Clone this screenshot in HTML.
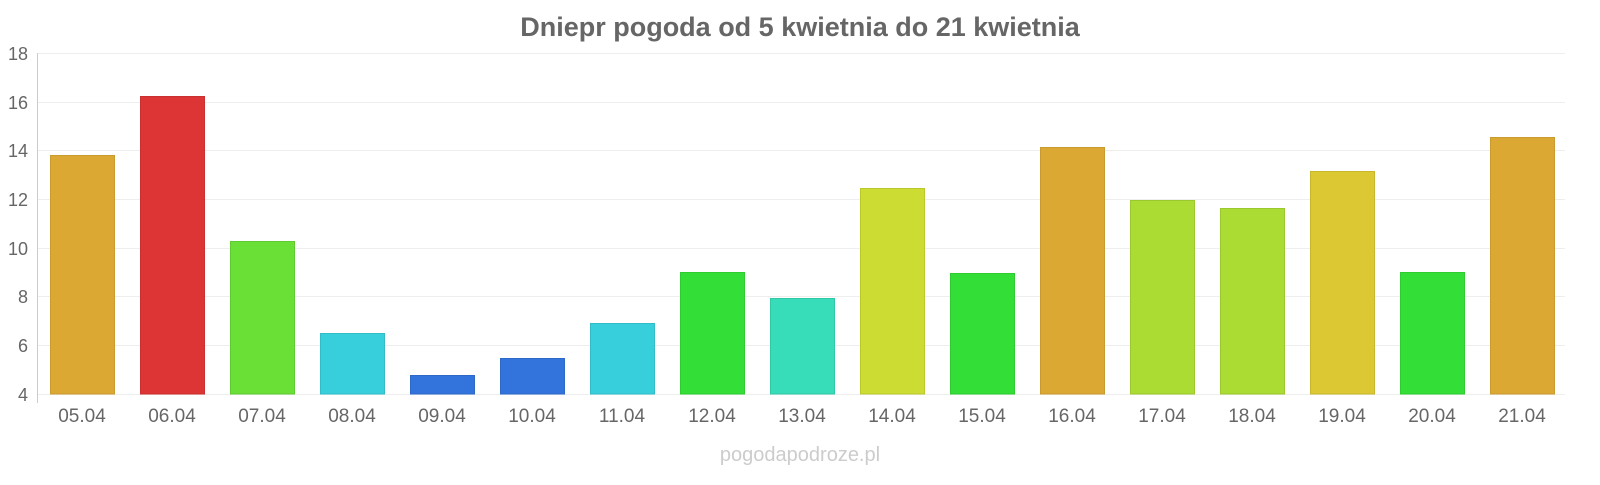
<!DOCTYPE html>
<html><head><meta charset="utf-8"><style>
body{margin:0;background:#fff;}
svg text{font-family:"Liberation Sans",sans-serif;}
</style></head><body>
<svg width="1600" height="480" xmlns="http://www.w3.org/2000/svg">
<text x="800" y="36" text-anchor="middle" font-size="27" font-weight="bold" fill="#666">Dniepr pogoda od 5 kwietnia do 21 kwietnia</text>
<g stroke="#eee" stroke-width="1">
<line x1="38" x2="1565" y1="53.5" y2="53.5"/>
<line x1="38" x2="1565" y1="102.5" y2="102.5"/>
<line x1="38" x2="1565" y1="150.5" y2="150.5"/>
<line x1="38" x2="1565" y1="199.5" y2="199.5"/>
<line x1="38" x2="1565" y1="248.5" y2="248.5"/>
<line x1="38" x2="1565" y1="296.5" y2="296.5"/>
<line x1="38" x2="1565" y1="345.5" y2="345.5"/>
<line x1="38" x2="1565" y1="394.5" y2="394.5"/>
</g>
<line x1="37.5" x2="37.5" y1="53" y2="403" stroke="#ccc"/>
<g font-size="18" fill="#666" text-anchor="end">
<text x="28" y="60">18</text><text x="28" y="109">16</text><text x="28" y="157">14</text>
<text x="28" y="206">12</text><text x="28" y="255">10</text><text x="28" y="303">8</text>
<text x="28" y="352">6</text><text x="28" y="401">4</text>
</g>
<g stroke-width="1">
<rect x="50.5" y="155.5" width="64" height="238.5" fill="#dca834" stroke="#c99a2e"/>
<rect x="140.5" y="96.5" width="64" height="297.5" fill="#dd3535" stroke="#c93030"/>
<rect x="230.5" y="241.5" width="64" height="152.5" fill="#6adf36" stroke="#5fcb31"/>
<rect x="320.5" y="333.5" width="64" height="60.5" fill="#37cfdc" stroke="#32bcc8"/>
<rect x="410.5" y="375.5" width="64" height="18.5" fill="#3374dc" stroke="#2e69c8"/>
<rect x="500.5" y="358.5" width="64" height="35.5" fill="#3374dc" stroke="#2e69c8"/>
<rect x="590.5" y="323.5" width="64" height="70.5" fill="#37cfdc" stroke="#32bcc8"/>
<rect x="680.5" y="272.5" width="64" height="121.5" fill="#33df36" stroke="#2ecb31"/>
<rect x="770.5" y="298.5" width="64" height="95.5" fill="#37dcb8" stroke="#32c8a7"/>
<rect x="860.5" y="188.5" width="64" height="205.5" fill="#cddc33" stroke="#bac82e"/>
<rect x="950.5" y="273.5" width="64" height="120.5" fill="#33df36" stroke="#2ecb31"/>
<rect x="1040.5" y="147.5" width="64" height="246.5" fill="#dca834" stroke="#c99a2e"/>
<rect x="1130.5" y="200.5" width="64" height="193.5" fill="#aadc33" stroke="#9bc82e"/>
<rect x="1220.5" y="208.5" width="64" height="185.5" fill="#aadc33" stroke="#9bc82e"/>
<rect x="1310.5" y="171.5" width="64" height="222.5" fill="#dcc833" stroke="#c8b62e"/>
<rect x="1400.5" y="272.5" width="64" height="121.5" fill="#33df36" stroke="#2ecb31"/>
<rect x="1490.5" y="137.5" width="64" height="256.5" fill="#dca834" stroke="#c99a2e"/>
</g>
<g font-size="19" fill="#666" text-anchor="middle">
<text x="82" y="422">05.04</text><text x="172" y="422">06.04</text><text x="262" y="422">07.04</text>
<text x="352" y="422">08.04</text><text x="442" y="422">09.04</text><text x="532" y="422">10.04</text>
<text x="622" y="422">11.04</text><text x="712" y="422">12.04</text><text x="802" y="422">13.04</text>
<text x="892" y="422">14.04</text><text x="982" y="422">15.04</text><text x="1072" y="422">16.04</text>
<text x="1162" y="422">17.04</text><text x="1252" y="422">18.04</text><text x="1342" y="422">19.04</text>
<text x="1432" y="422">20.04</text><text x="1522" y="422">21.04</text>
</g>
<text x="800" y="461" text-anchor="middle" font-size="20" fill="#ccc">pogodapodroze.pl</text>
</svg>
</body></html>
